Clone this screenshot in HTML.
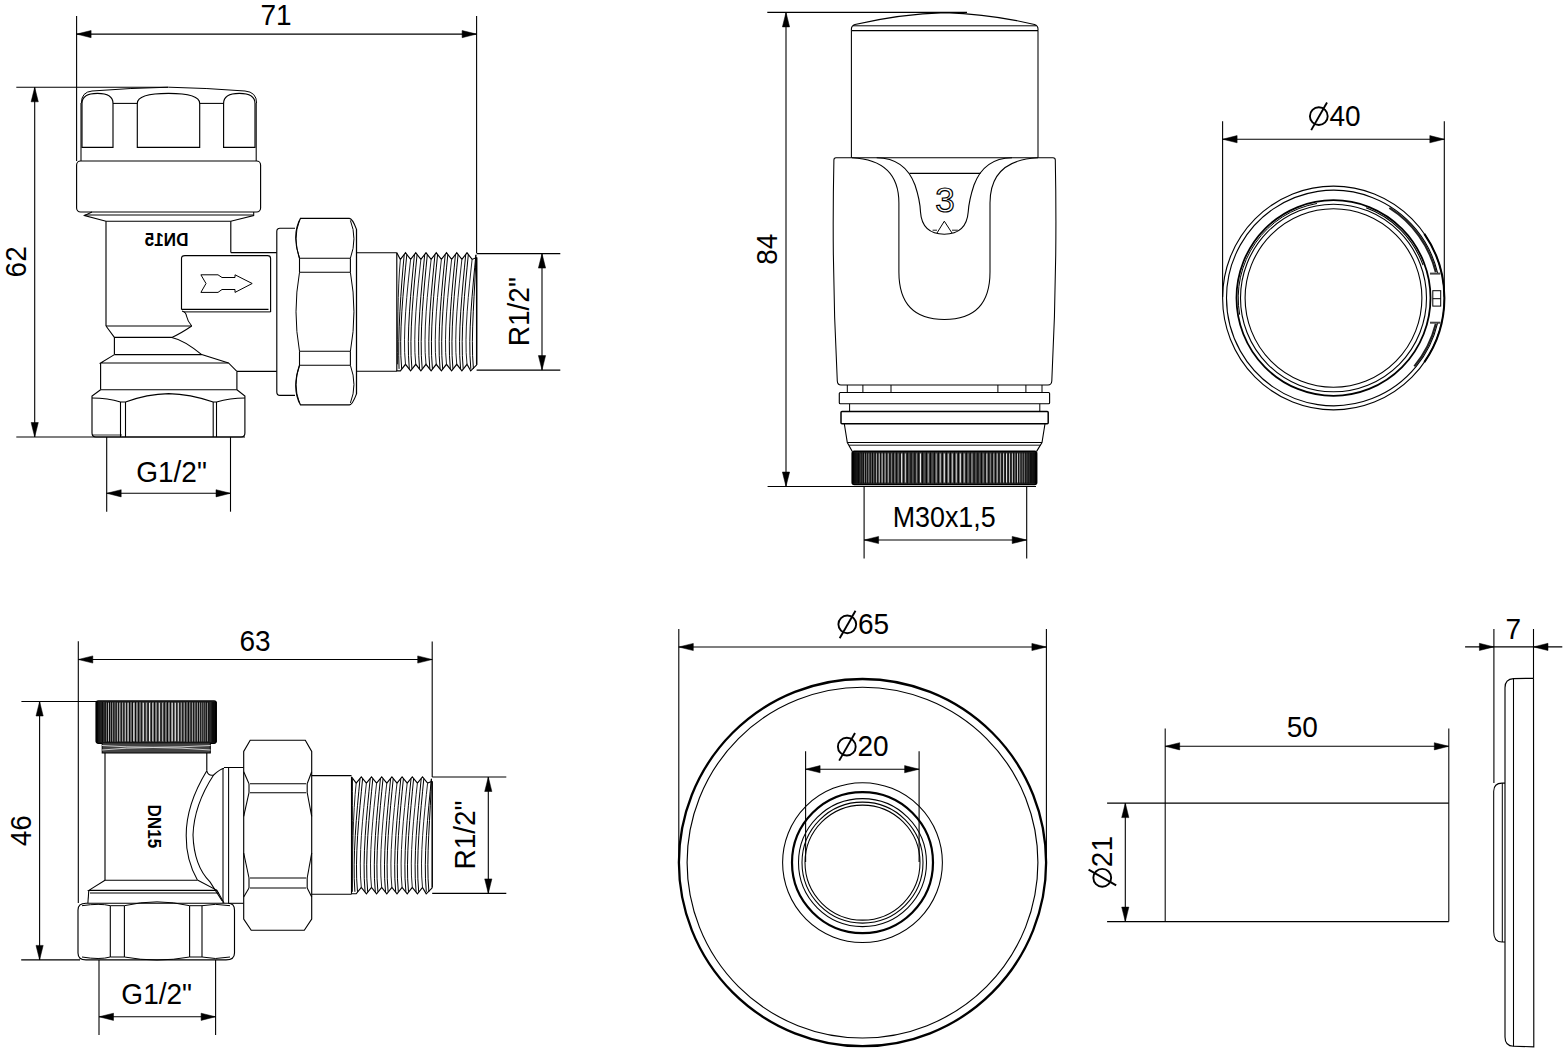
<!DOCTYPE html>
<html><head><meta charset="utf-8"><style>
html,body{margin:0;padding:0;background:#fff;width:1567px;height:1053px;overflow:hidden}
svg{display:block}
text{font-family:"Liberation Sans",sans-serif;fill:#000}
</style></head><body>
<svg width="1567" height="1053" viewBox="0 0 1567 1053">
<rect width="1567" height="1053" fill="#fff"/>
<line x1="76.6" y1="16" x2="76.6" y2="161" stroke="#000" stroke-width="1.1"/>
<line x1="476.6" y1="16" x2="476.6" y2="253" stroke="#000" stroke-width="1.1"/>
<line x1="76.6" y1="34.1" x2="476.6" y2="34.1" stroke="#000" stroke-width="1.1"/>
<path d="M76.6 34.1 L91.1 30.5 L91.1 37.7 Z" stroke="#000" stroke-width="0.5" fill="#000" />
<path d="M476.6 34.1 L462.1 30.5 L462.1 37.7 Z" stroke="#000" stroke-width="0.5" fill="#000" />
<text x="0" y="0" font-size="29.5" text-anchor="middle" transform="translate(276 25) scale(0.95 1)" >71</text>
<line x1="16.3" y1="87.3" x2="168" y2="87.3" stroke="#000" stroke-width="1.1"/>
<line x1="16.3" y1="437" x2="245" y2="437" stroke="#000" stroke-width="1.1"/>
<line x1="34.7" y1="87.3" x2="34.7" y2="437" stroke="#000" stroke-width="1.1"/>
<path d="M34.7 87.3 L31.1 101.8 L38.3 101.8 Z" stroke="#000" stroke-width="0.5" fill="#000" />
<path d="M34.7 437 L31.1 422.5 L38.3 422.5 Z" stroke="#000" stroke-width="0.5" fill="#000" />
<text x="0" y="0" font-size="29.5" text-anchor="middle" transform="translate(26.3 261.8) rotate(-90) scale(0.95 1)" >62</text>
<line x1="106.7" y1="437" x2="106.7" y2="511.7" stroke="#000" stroke-width="1.1"/>
<line x1="230.5" y1="437" x2="230.5" y2="511.7" stroke="#000" stroke-width="1.1"/>
<line x1="106.7" y1="493.3" x2="230.5" y2="493.3" stroke="#000" stroke-width="1.1"/>
<path d="M106.7 493.3 L121.2 489.7 L121.2 496.9 Z" stroke="#000" stroke-width="0.5" fill="#000" />
<path d="M230.5 493.3 L216 489.7 L216 496.9 Z" stroke="#000" stroke-width="0.5" fill="#000" />
<text x="0" y="0" font-size="29.5" text-anchor="middle" transform="translate(171.5 482.3) scale(0.95 1)" >G1/2"</text>
<line x1="476.6" y1="253.6" x2="560.3" y2="253.6" stroke="#000" stroke-width="1.1"/>
<line x1="476.6" y1="370.1" x2="560.3" y2="370.1" stroke="#000" stroke-width="1.1"/>
<line x1="542" y1="253.6" x2="542" y2="370.1" stroke="#000" stroke-width="1.1"/>
<path d="M542 253.6 L538.4 268.1 L545.6 268.1 Z" stroke="#000" stroke-width="0.5" fill="#000" />
<path d="M542 370.1 L538.4 355.6 L545.6 355.6 Z" stroke="#000" stroke-width="0.5" fill="#000" />
<text x="0" y="0" font-size="29.5" text-anchor="middle" transform="translate(529.3 311.7) rotate(-90) scale(0.95 1)" >R1/2"</text>
<path d="M81.4 103 Q81.4 92 92 91 Q130 88 168.5 87.2 Q207 88 245 91 Q256.6 92 256.6 103" stroke="#000" stroke-width="1" fill="none" />
<path d="M82 147.4 L82 103.4 Q82 93.4 97.5 93.4 Q113 93.4 113 103.4 L113 147.4 Z" stroke="#000" stroke-width="1.14" fill="none" />
<path d="M137.3 147.4 L137.3 103.4 Q137.3 93.4 168.5 93.4 Q199.7 93.4 199.7 103.4 L199.7 147.4 Z" stroke="#000" stroke-width="1.14" fill="none" />
<path d="M223.6 147.4 L223.6 103.4 Q223.6 93.4 239.3 93.4 Q255 93.4 255 103.4 L255 147.4 Z" stroke="#000" stroke-width="1.14" fill="none" />
<line x1="113" y1="103.4" x2="137.3" y2="103.4" stroke="#000" stroke-width="1.06"/>
<line x1="199.7" y1="103.4" x2="223.6" y2="103.4" stroke="#000" stroke-width="1.06"/>
<line x1="81" y1="103" x2="81" y2="161" stroke="#000" stroke-width="1.06"/>
<line x1="256.2" y1="103" x2="256.2" y2="161" stroke="#000" stroke-width="1.06"/>
<rect x="76.6" y="161" width="184" height="51" rx="4" stroke="#000" stroke-width="1.14" fill="none"/>
<path d="M84.5 215 L253.7 215" stroke="#000" stroke-width="1" fill="none" />
<path d="M92 212 L84.5 215.5 L106 221.2 L230.8 221.2 L253.7 215.5 L253.7 212" stroke="#000" stroke-width="1.06" fill="none" />
<line x1="106" y1="221.2" x2="106" y2="326" stroke="#000" stroke-width="1.14"/>
<line x1="230.8" y1="221.2" x2="230.8" y2="252.6" stroke="#000" stroke-width="1.14"/>
<text x="0" y="0" font-size="19" font-weight="bold" text-anchor="middle" transform="translate(166.6 245.7) scale(-0.9 1)">DN15</text>
<line x1="230.8" y1="252.6" x2="276.7" y2="252.6" stroke="#000" stroke-width="1.06"/>
<path d="M181.5 309.4 L181.5 258.5 Q181.5 255.6 185 255.6 L267.5 255.6 Q270.6 255.6 270.6 258.5 L270.6 312" stroke="#000" stroke-width="1.14" fill="none" />
<line x1="181.5" y1="309.4" x2="268.5" y2="309.4" stroke="#000" stroke-width="1.14"/>
<line x1="184" y1="311.9" x2="270.6" y2="311.9" stroke="#000" stroke-width="1"/>
<path d="M200.9 274.8 L218 274.8 L222 277.5 L235 277.5 L235 274.8 L252.2 283.5 L235 292.4 L235 289.5 L222 289.5 L218 292.4 L200.9 292.4 L206 283.5 Z" stroke="#000" stroke-width="1" fill="none" />
<path d="M182 311 Q186 312 186.5 316 Q187.5 321 191.7 326" stroke="#000" stroke-width="1.06" fill="none" />
<line x1="106" y1="326" x2="191.7" y2="326" stroke="#000" stroke-width="1.14"/>
<path d="M106 326 L114.4 337.4 L171.8 337.4 Q180 334 191.7 326" stroke="#000" stroke-width="1.06" fill="none" />
<line x1="114.4" y1="337.4" x2="114.4" y2="354.6" stroke="#000" stroke-width="1.14"/>
<path d="M171.8 337.4 Q184 340 201.7 354.6 L228.5 363 L236.9 371.4" stroke="#000" stroke-width="1.06" fill="none" />
<line x1="114.4" y1="354.6" x2="201.7" y2="354.6" stroke="#000" stroke-width="1.14"/>
<path d="M114.4 354.6 L100.6 363 L228.5 363" stroke="#000" stroke-width="1.06" fill="none" />
<line x1="100.6" y1="363" x2="100.6" y2="389.8" stroke="#000" stroke-width="1.14"/>
<line x1="236.9" y1="371.4" x2="236.9" y2="389.8" stroke="#000" stroke-width="1.14"/>
<line x1="100.6" y1="389.8" x2="236.9" y2="389.8" stroke="#000" stroke-width="1.14"/>
<path d="M100.6 389.8 L92 396 L92 433 Q92 437 96 437 L241 437 Q244.9 437 244.9 433 L244.9 396 L236.9 389.8" stroke="#000" stroke-width="1.14" fill="none" />
<path d="M92 398 Q108 398 120.5 402 L125.5 402 Q147 394 168.7 393.6 Q190 394 213.2 402 L216.5 402 Q230 398 244.9 398" stroke="#000" stroke-width="1.1" fill="none" />
<line x1="120.5" y1="402" x2="120.5" y2="437" stroke="#000" stroke-width="1.1"/>
<line x1="125.5" y1="402" x2="125.5" y2="437" stroke="#000" stroke-width="1.1"/>
<line x1="213.2" y1="402" x2="213.2" y2="437" stroke="#000" stroke-width="1.1"/>
<line x1="216.5" y1="402" x2="216.5" y2="437" stroke="#000" stroke-width="1.1"/>
<line x1="92" y1="435" x2="122" y2="435" stroke="#000" stroke-width="0.8"/>
<line x1="237" y1="371.4" x2="276.7" y2="371.4" stroke="#000" stroke-width="1.06"/>
<path d="M295 228.3 L280 228.3 Q276.8 228.3 276.8 231.5 L276.8 392 Q276.8 395.4 280 395.4 L295 395.4" stroke="#000" stroke-width="1.14" fill="none" />
<path d="M299.5 258.2 Q291.5 234.3 300.5 218.4 L349.4 218.4 Q352.4 218.4 356.5 229.4 L356.5 393.9 Q352.4 404.9 349.4 404.9 L300.5 404.9 Q291.5 389.1 299.5 365.3" stroke="#000" stroke-width="1.14" fill="none" />
<line x1="299.5" y1="258.2" x2="350.4" y2="258.2" stroke="#000" stroke-width="1.06"/>
<line x1="299.5" y1="272.3" x2="350.4" y2="272.3" stroke="#000" stroke-width="1.06"/>
<line x1="299.5" y1="351.3" x2="350.4" y2="351.3" stroke="#000" stroke-width="1.06"/>
<line x1="299.5" y1="365.3" x2="350.4" y2="365.3" stroke="#000" stroke-width="1.06"/>
<line x1="299.5" y1="258.2" x2="299.5" y2="272.3" stroke="#000" stroke-width="1.1"/>
<line x1="350.4" y1="258.2" x2="350.4" y2="272.3" stroke="#000" stroke-width="1.1"/>
<line x1="299.5" y1="351.3" x2="299.5" y2="365.3" stroke="#000" stroke-width="1.1"/>
<line x1="350.4" y1="351.3" x2="350.4" y2="365.3" stroke="#000" stroke-width="1.1"/>
<path d="M299.5 220.4 Q292.5 238.3 299.5 258.2" stroke="#000" stroke-width="1" fill="none" />
<path d="M350.4 220.4 Q357.5 238.3 350.4 258.2" stroke="#000" stroke-width="1" fill="none" />
<path d="M299.5 272.3 Q292.5 311.8 299.5 351.3" stroke="#000" stroke-width="1" fill="none" />
<path d="M350.4 272.3 Q357.5 311.8 350.4 351.3" stroke="#000" stroke-width="1" fill="none" />
<path d="M299.5 365.3 Q292.5 385.1 299.5 402.9" stroke="#000" stroke-width="1" fill="none" />
<path d="M350.4 365.3 Q357.5 385.1 350.4 402.9" stroke="#000" stroke-width="1" fill="none" />
<line x1="356.5" y1="229.4" x2="356.5" y2="393.9" stroke="#000" stroke-width="1.14"/>
<line x1="356.5" y1="252.8" x2="396.8" y2="252.8" stroke="#000" stroke-width="1.06"/>
<line x1="356.5" y1="371.2" x2="396.8" y2="371.2" stroke="#000" stroke-width="1.06"/>
<path d="M396.8 252.8 L400.38 259.4 L405.5 252.8 L410.62 259.4 L415.75 252.8 L420.88 259.4 L426 252.8 L431.12 259.4 L436.25 252.8 L441.38 259.4 L446.5 252.8 L451.62 259.4 L456.75 252.8 L461.88 259.4 L467 252.8 L472.12 259.4 L476.7 257.42" stroke="#000" stroke-width="1.14" fill="none" />
<path d="M396.3 370.9 L400.38 370.9 L405.5 364.3 L410.62 370.9 L415.75 364.3 L420.88 370.9 L426 364.3 L431.12 370.9 L436.25 364.3 L441.38 370.9 L446.5 364.3 L451.62 370.9 L456.75 364.3 L461.88 370.9 L467 364.3 L470.7 370.9 L476.7 364.9" stroke="#000" stroke-width="1.14" fill="none" />
<path d="M400.38 259.4 C397.6 288.23 397.6 335.47 397.6 364.3" stroke="#222" stroke-width="1" fill="none" />
<path d="M404.2 254.8 C401 288.23 397.6 335.47 399.07 368.9" stroke="#000" stroke-width="1" fill="none" />
<path d="M406.8 254.8 C403.6 288.23 398.48 335.47 401.68 368.9" stroke="#000" stroke-width="1" fill="none" />
<path d="M410.62 259.4 C407.43 288.23 402.3 335.47 405.5 364.3" stroke="#222" stroke-width="1" fill="none" />
<path d="M414.45 254.8 C411.25 288.23 406.12 335.47 409.32 368.9" stroke="#000" stroke-width="1" fill="none" />
<path d="M417.05 254.8 C413.85 288.23 408.73 335.47 411.93 368.9" stroke="#000" stroke-width="1" fill="none" />
<path d="M420.88 259.4 C417.68 288.23 412.55 335.47 415.75 364.3" stroke="#222" stroke-width="1" fill="none" />
<path d="M424.7 254.8 C421.5 288.23 416.38 335.47 419.57 368.9" stroke="#000" stroke-width="1" fill="none" />
<path d="M427.3 254.8 C424.1 288.23 418.98 335.47 422.18 368.9" stroke="#000" stroke-width="1" fill="none" />
<path d="M431.12 259.4 C427.93 288.23 422.8 335.47 426 364.3" stroke="#222" stroke-width="1" fill="none" />
<path d="M434.95 254.8 C431.75 288.23 426.62 335.47 429.82 368.9" stroke="#000" stroke-width="1" fill="none" />
<path d="M437.55 254.8 C434.35 288.23 429.23 335.47 432.43 368.9" stroke="#000" stroke-width="1" fill="none" />
<path d="M441.38 259.4 C438.18 288.23 433.05 335.47 436.25 364.3" stroke="#222" stroke-width="1" fill="none" />
<path d="M445.2 254.8 C442 288.23 436.88 335.47 440.07 368.9" stroke="#000" stroke-width="1" fill="none" />
<path d="M447.8 254.8 C444.6 288.23 439.48 335.47 442.68 368.9" stroke="#000" stroke-width="1" fill="none" />
<path d="M451.62 259.4 C448.43 288.23 443.3 335.47 446.5 364.3" stroke="#222" stroke-width="1" fill="none" />
<path d="M455.45 254.8 C452.25 288.23 447.12 335.47 450.32 368.9" stroke="#000" stroke-width="1" fill="none" />
<path d="M458.05 254.8 C454.85 288.23 449.73 335.47 452.93 368.9" stroke="#000" stroke-width="1" fill="none" />
<path d="M461.88 259.4 C458.68 288.23 453.55 335.47 456.75 364.3" stroke="#222" stroke-width="1" fill="none" />
<path d="M465.7 254.8 C462.5 288.23 457.38 335.47 460.57 368.9" stroke="#000" stroke-width="1" fill="none" />
<path d="M468.3 254.8 C465.1 288.23 459.98 335.47 463.18 368.9" stroke="#000" stroke-width="1" fill="none" />
<path d="M472.12 259.4 C468.93 288.23 463.8 335.47 467 364.3" stroke="#222" stroke-width="1" fill="none" />
<path d="M475.9 254.8 C472.75 288.23 467.62 335.47 470.82 368.9" stroke="#000" stroke-width="1" fill="none" />
<path d="M475.9 254.8 C475.35 288.23 470.23 335.47 473.43 368.9" stroke="#000" stroke-width="1" fill="none" />
<line x1="396.8" y1="252.8" x2="396.8" y2="370.9" stroke="#000" stroke-width="1.14"/>
<line x1="476.7" y1="257.42" x2="476.7" y2="364.9" stroke="#000" stroke-width="1.5"/>
<line x1="767.3" y1="12.4" x2="967" y2="12.4" stroke="#000" stroke-width="1.1"/>
<line x1="767.6" y1="486.5" x2="1036" y2="486.5" stroke="#000" stroke-width="1.1"/>
<line x1="786" y1="12.4" x2="786" y2="486.5" stroke="#000" stroke-width="1.1"/>
<path d="M786 12.4 L782.4 26.9 L789.6 26.9 Z" stroke="#000" stroke-width="0.5" fill="#000" />
<path d="M786 486.5 L782.4 472 L789.6 472 Z" stroke="#000" stroke-width="0.5" fill="#000" />
<text x="0" y="0" font-size="29.5" text-anchor="middle" transform="translate(776.8 249.2) rotate(-90) scale(0.95 1)" >84</text>
<line x1="864.1" y1="486.5" x2="864.1" y2="558.4" stroke="#000" stroke-width="1.1"/>
<line x1="1026.7" y1="486.5" x2="1026.7" y2="558.4" stroke="#000" stroke-width="1.1"/>
<line x1="864.1" y1="540" x2="1026.7" y2="540" stroke="#000" stroke-width="1.1"/>
<path d="M864.1 540 L878.6 536.4 L878.6 543.6 Z" stroke="#000" stroke-width="0.5" fill="#000" />
<path d="M1026.7 540 L1012.2 536.4 L1012.2 543.6 Z" stroke="#000" stroke-width="0.5" fill="#000" />
<text x="0" y="0" font-size="29.5" text-anchor="middle" transform="translate(944.2 527.3) scale(0.91 1)" >M30x1,5</text>
<path d="M851.4 30.6 L851.4 29 Q851.4 25.8 855 24.5 Q900 14 945.3 12.6 Q990 14 1034.5 24.5 Q1038 25.8 1038 29 L1038 30.6" stroke="#000" stroke-width="1.1" fill="none" />
<line x1="853" y1="25.8" x2="1036" y2="25.8" stroke="#000" stroke-width="1"/>
<line x1="851.4" y1="30.6" x2="1038" y2="30.6" stroke="#000" stroke-width="1.14"/>
<line x1="851.4" y1="30.6" x2="851.4" y2="157.7" stroke="#000" stroke-width="1.06"/>
<line x1="1038" y1="30.6" x2="1038" y2="157.7" stroke="#000" stroke-width="1.06"/>
<path d="M836 157.7 L1053 157.7 Q1055.3 157.7 1055.3 160 Q1057.5 270 1051.8 381 Q1051.5 385 1048 385 L841 385 Q837.5 385 837.3 381 Q831.5 270 833.9 160 Q833.9 157.7 836 157.7 Z" stroke="#000" stroke-width="1.06" fill="none" />
<path d="M852 157.7 Q898.9 160 898.9 203 L898.9 272 Q898.9 319.5 944.4 319.5 Q990 319.5 990 272 L990 203 Q990 160 1038 157.7" stroke="#000" stroke-width="1.06" fill="none" />
<path d="M876.7 157.7 Q905 158 915 185 Q920 200 920.5 212 Q922 234 944.3 234.2 Q966.5 234 968.2 212 Q969 200 974 185 Q984 158 1012 157.7" stroke="#000" stroke-width="1.1" fill="none" />
<line x1="909.5" y1="173.4" x2="980.5" y2="173.4" stroke="#000" stroke-width="1.1"/>
<text x="0" y="0" font-size="35" text-anchor="middle" transform="translate(945 212.2)" style="fill:none;stroke:#000;stroke-width:1.2">3</text>
<path d="M937 233 L944.3 221.2 L952 233" stroke="#000" stroke-width="1" fill="none" />
<line x1="932.6" y1="230.2" x2="937" y2="230.2" stroke="#000" stroke-width="0.9"/>
<line x1="952" y1="230.2" x2="957.9" y2="230.2" stroke="#000" stroke-width="0.9"/>
<line x1="847.3" y1="385" x2="847.3" y2="392.5" stroke="#000" stroke-width="1"/>
<line x1="862.9" y1="385" x2="862.9" y2="392.5" stroke="#000" stroke-width="1"/>
<line x1="891" y1="385" x2="891" y2="392.5" stroke="#000" stroke-width="1"/>
<line x1="997.9" y1="385" x2="997.9" y2="392.5" stroke="#000" stroke-width="1"/>
<line x1="1025.9" y1="385" x2="1025.9" y2="392.5" stroke="#000" stroke-width="1"/>
<line x1="1042" y1="385" x2="1042" y2="392.5" stroke="#000" stroke-width="1"/>
<rect x="839.3" y="392.5" width="210.3" height="11.3" rx="1" stroke="#000" stroke-width="1.14" fill="none"/>
<line x1="849.6" y1="403.8" x2="849.6" y2="411.6" stroke="#000" stroke-width="1"/>
<line x1="1039.8" y1="403.8" x2="1039.8" y2="411.6" stroke="#000" stroke-width="1"/>
<rect x="841" y="411.6" width="207.2" height="12.15" rx="1" stroke="#000" stroke-width="1.5" fill="none"/>
<path d="M844.3 423.75 L847.3 442.5 L852.3 451.4" stroke="#000" stroke-width="1.1" fill="none" />
<path d="M1045 423.75 L1042 442.5 L1036.6 451.4" stroke="#000" stroke-width="1.1" fill="none" />
<line x1="847.3" y1="442.5" x2="1042" y2="442.5" stroke="#000" stroke-width="1.06"/>
<line x1="849" y1="445.2" x2="1040.5" y2="445.2" stroke="#000" stroke-width="0.9"/>
<rect x="852.3" y="451.4" width="184.3" height="33.1" rx="2" stroke="#000" stroke-width="0" fill="#383838"/>
<line x1="852.32" y1="452.4" x2="852.32" y2="483.5" stroke="#000" stroke-width="0.9"/>
<line x1="852.5" y1="452.4" x2="852.5" y2="483.5" stroke="#000" stroke-width="0.9"/>
<line x1="852.85" y1="452.4" x2="852.85" y2="483.5" stroke="#000" stroke-width="0.9"/>
<line x1="853.37" y1="452.4" x2="853.37" y2="483.5" stroke="#000" stroke-width="0.9"/>
<line x1="854.07" y1="452.4" x2="854.07" y2="483.5" stroke="#000" stroke-width="0.9"/>
<line x1="854.94" y1="452.4" x2="854.94" y2="483.5" stroke="#000" stroke-width="0.9"/>
<line x1="855.98" y1="452.4" x2="855.98" y2="483.5" stroke="#000" stroke-width="0.9"/>
<line x1="857.19" y1="452.4" x2="857.19" y2="483.5" stroke="#000" stroke-width="0.9"/>
<line x1="858.57" y1="452.4" x2="858.57" y2="483.5" stroke="#000" stroke-width="0.9"/>
<line x1="860.83" y1="453.4" x2="860.83" y2="482.5" stroke="rgb(255,255,255)" stroke-width="0.49"/>
<line x1="860.1" y1="452.4" x2="860.1" y2="483.5" stroke="#000" stroke-width="0.9"/>
<line x1="862.6" y1="453.4" x2="862.6" y2="482.5" stroke="rgb(90,90,90)" stroke-width="0.53"/>
<line x1="861.8" y1="452.4" x2="861.8" y2="483.5" stroke="#000" stroke-width="0.9"/>
<line x1="864.53" y1="453.4" x2="864.53" y2="482.5" stroke="rgb(210,210,210)" stroke-width="0.58"/>
<line x1="863.66" y1="452.4" x2="863.66" y2="483.5" stroke="#000" stroke-width="0.9"/>
<line x1="866.61" y1="453.4" x2="866.61" y2="482.5" stroke="rgb(170,170,170)" stroke-width="0.63"/>
<line x1="865.67" y1="452.4" x2="865.67" y2="483.5" stroke="#000" stroke-width="0.9"/>
<line x1="868.84" y1="453.4" x2="868.84" y2="482.5" stroke="rgb(255,255,255)" stroke-width="0.67"/>
<line x1="867.83" y1="452.4" x2="867.83" y2="483.5" stroke="#000" stroke-width="0.9"/>
<line x1="871.21" y1="453.4" x2="871.21" y2="482.5" stroke="rgb(130,130,130)" stroke-width="0.71"/>
<line x1="870.14" y1="452.4" x2="870.14" y2="483.5" stroke="#000" stroke-width="0.9"/>
<line x1="873.72" y1="453.4" x2="873.72" y2="482.5" stroke="rgb(130,130,130)" stroke-width="0.76"/>
<line x1="872.58" y1="452.4" x2="872.58" y2="483.5" stroke="#000" stroke-width="0.9"/>
<line x1="876.36" y1="453.4" x2="876.36" y2="482.5" stroke="rgb(210,210,210)" stroke-width="0.8"/>
<line x1="875.17" y1="452.4" x2="875.17" y2="483.5" stroke="#000" stroke-width="0.9"/>
<line x1="879.14" y1="453.4" x2="879.14" y2="482.5" stroke="rgb(255,255,255)" stroke-width="0.83"/>
<line x1="877.88" y1="452.4" x2="877.88" y2="483.5" stroke="#000" stroke-width="0.9"/>
<line x1="882.03" y1="453.4" x2="882.03" y2="482.5" stroke="rgb(255,255,255)" stroke-width="0.87"/>
<line x1="880.73" y1="452.4" x2="880.73" y2="483.5" stroke="#000" stroke-width="0.9"/>
<line x1="885.05" y1="453.4" x2="885.05" y2="482.5" stroke="rgb(210,210,210)" stroke-width="0.91"/>
<line x1="883.69" y1="452.4" x2="883.69" y2="483.5" stroke="#000" stroke-width="0.9"/>
<line x1="888.18" y1="453.4" x2="888.18" y2="482.5" stroke="rgb(210,210,210)" stroke-width="0.94"/>
<line x1="886.77" y1="452.4" x2="886.77" y2="483.5" stroke="#000" stroke-width="0.9"/>
<line x1="891.42" y1="453.4" x2="891.42" y2="482.5" stroke="rgb(130,130,130)" stroke-width="0.97"/>
<line x1="889.96" y1="452.4" x2="889.96" y2="483.5" stroke="#000" stroke-width="0.9"/>
<line x1="894.76" y1="453.4" x2="894.76" y2="482.5" stroke="rgb(130,130,130)" stroke-width="1"/>
<line x1="893.25" y1="452.4" x2="893.25" y2="483.5" stroke="#000" stroke-width="0.9"/>
<line x1="898.19" y1="453.4" x2="898.19" y2="482.5" stroke="rgb(130,130,130)" stroke-width="1.03"/>
<line x1="896.65" y1="452.4" x2="896.65" y2="483.5" stroke="#000" stroke-width="0.9"/>
<line x1="901.71" y1="453.4" x2="901.71" y2="482.5" stroke="rgb(255,255,255)" stroke-width="1.06"/>
<line x1="900.13" y1="452.4" x2="900.13" y2="483.5" stroke="#000" stroke-width="0.9"/>
<line x1="905.32" y1="453.4" x2="905.32" y2="482.5" stroke="rgb(210,210,210)" stroke-width="1.08"/>
<line x1="903.69" y1="452.4" x2="903.69" y2="483.5" stroke="#000" stroke-width="0.9"/>
<line x1="908.99" y1="453.4" x2="908.99" y2="482.5" stroke="rgb(90,90,90)" stroke-width="1.1"/>
<line x1="907.34" y1="452.4" x2="907.34" y2="483.5" stroke="#000" stroke-width="0.9"/>
<line x1="912.74" y1="453.4" x2="912.74" y2="482.5" stroke="rgb(90,90,90)" stroke-width="1.12"/>
<line x1="911.05" y1="452.4" x2="911.05" y2="483.5" stroke="#000" stroke-width="0.9"/>
<line x1="916.54" y1="453.4" x2="916.54" y2="482.5" stroke="rgb(130,130,130)" stroke-width="1.14"/>
<line x1="914.83" y1="452.4" x2="914.83" y2="483.5" stroke="#000" stroke-width="0.9"/>
<line x1="920.4" y1="453.4" x2="920.4" y2="482.5" stroke="rgb(255,255,255)" stroke-width="1.02"/>
<line x1="918.66" y1="452.4" x2="918.66" y2="483.5" stroke="#000" stroke-width="0.9"/>
<line x1="924.3" y1="453.4" x2="924.3" y2="482.5" stroke="rgb(90,90,90)" stroke-width="1.03"/>
<line x1="922.55" y1="452.4" x2="922.55" y2="483.5" stroke="#000" stroke-width="0.9"/>
<line x1="928.25" y1="453.4" x2="928.25" y2="482.5" stroke="rgb(170,170,170)" stroke-width="1.04"/>
<line x1="926.47" y1="452.4" x2="926.47" y2="483.5" stroke="#000" stroke-width="0.9"/>
<line x1="932.22" y1="453.4" x2="932.22" y2="482.5" stroke="rgb(90,90,90)" stroke-width="1.05"/>
<line x1="930.43" y1="452.4" x2="930.43" y2="483.5" stroke="#000" stroke-width="0.9"/>
<line x1="936.22" y1="453.4" x2="936.22" y2="482.5" stroke="rgb(170,170,170)" stroke-width="1.06"/>
<line x1="934.42" y1="452.4" x2="934.42" y2="483.5" stroke="#000" stroke-width="0.9"/>
<line x1="940.23" y1="453.4" x2="940.23" y2="482.5" stroke="rgb(210,210,210)" stroke-width="1.06"/>
<line x1="938.42" y1="452.4" x2="938.42" y2="483.5" stroke="#000" stroke-width="0.9"/>
<line x1="944.25" y1="453.4" x2="944.25" y2="482.5" stroke="rgb(255,255,255)" stroke-width="1.06"/>
<line x1="942.44" y1="452.4" x2="942.44" y2="483.5" stroke="#000" stroke-width="0.9"/>
<line x1="948.27" y1="453.4" x2="948.27" y2="482.5" stroke="rgb(210,210,210)" stroke-width="1.06"/>
<line x1="946.46" y1="452.4" x2="946.46" y2="483.5" stroke="#000" stroke-width="0.9"/>
<line x1="952.28" y1="453.4" x2="952.28" y2="482.5" stroke="rgb(210,210,210)" stroke-width="1.06"/>
<line x1="950.48" y1="452.4" x2="950.48" y2="483.5" stroke="#000" stroke-width="0.9"/>
<line x1="956.28" y1="453.4" x2="956.28" y2="482.5" stroke="rgb(210,210,210)" stroke-width="1.06"/>
<line x1="954.48" y1="452.4" x2="954.48" y2="483.5" stroke="#000" stroke-width="0.9"/>
<line x1="960.26" y1="453.4" x2="960.26" y2="482.5" stroke="rgb(255,255,255)" stroke-width="1.05"/>
<line x1="958.47" y1="452.4" x2="958.47" y2="483.5" stroke="#000" stroke-width="0.9"/>
<line x1="964.2" y1="453.4" x2="964.2" y2="482.5" stroke="rgb(210,210,210)" stroke-width="1.04"/>
<line x1="962.43" y1="452.4" x2="962.43" y2="483.5" stroke="#000" stroke-width="0.9"/>
<line x1="968.11" y1="453.4" x2="968.11" y2="482.5" stroke="rgb(130,130,130)" stroke-width="1.03"/>
<line x1="966.35" y1="452.4" x2="966.35" y2="483.5" stroke="#000" stroke-width="0.9"/>
<line x1="971.97" y1="453.4" x2="971.97" y2="482.5" stroke="rgb(170,170,170)" stroke-width="1.02"/>
<line x1="970.24" y1="452.4" x2="970.24" y2="483.5" stroke="#000" stroke-width="0.9"/>
<line x1="975.78" y1="453.4" x2="975.78" y2="482.5" stroke="rgb(90,90,90)" stroke-width="1.14"/>
<line x1="974.07" y1="452.4" x2="974.07" y2="483.5" stroke="#000" stroke-width="0.9"/>
<line x1="979.54" y1="453.4" x2="979.54" y2="482.5" stroke="rgb(90,90,90)" stroke-width="1.12"/>
<line x1="977.85" y1="452.4" x2="977.85" y2="483.5" stroke="#000" stroke-width="0.9"/>
<line x1="983.22" y1="453.4" x2="983.22" y2="482.5" stroke="rgb(130,130,130)" stroke-width="1.1"/>
<line x1="981.56" y1="452.4" x2="981.56" y2="483.5" stroke="#000" stroke-width="0.9"/>
<line x1="986.83" y1="453.4" x2="986.83" y2="482.5" stroke="rgb(210,210,210)" stroke-width="1.08"/>
<line x1="985.21" y1="452.4" x2="985.21" y2="483.5" stroke="#000" stroke-width="0.9"/>
<line x1="990.36" y1="453.4" x2="990.36" y2="482.5" stroke="rgb(130,130,130)" stroke-width="1.06"/>
<line x1="988.77" y1="452.4" x2="988.77" y2="483.5" stroke="#000" stroke-width="0.9"/>
<line x1="993.8" y1="453.4" x2="993.8" y2="482.5" stroke="rgb(170,170,170)" stroke-width="1.03"/>
<line x1="992.25" y1="452.4" x2="992.25" y2="483.5" stroke="#000" stroke-width="0.9"/>
<line x1="997.15" y1="453.4" x2="997.15" y2="482.5" stroke="rgb(210,210,210)" stroke-width="1"/>
<line x1="995.65" y1="452.4" x2="995.65" y2="483.5" stroke="#000" stroke-width="0.9"/>
<line x1="1000.4" y1="453.4" x2="1000.4" y2="482.5" stroke="rgb(170,170,170)" stroke-width="0.97"/>
<line x1="998.94" y1="452.4" x2="998.94" y2="483.5" stroke="#000" stroke-width="0.9"/>
<line x1="1003.54" y1="453.4" x2="1003.54" y2="482.5" stroke="rgb(210,210,210)" stroke-width="0.94"/>
<line x1="1002.13" y1="452.4" x2="1002.13" y2="483.5" stroke="#000" stroke-width="0.9"/>
<line x1="1006.57" y1="453.4" x2="1006.57" y2="482.5" stroke="rgb(255,255,255)" stroke-width="0.91"/>
<line x1="1005.21" y1="452.4" x2="1005.21" y2="483.5" stroke="#000" stroke-width="0.9"/>
<line x1="1009.48" y1="453.4" x2="1009.48" y2="482.5" stroke="rgb(210,210,210)" stroke-width="0.87"/>
<line x1="1008.17" y1="452.4" x2="1008.17" y2="483.5" stroke="#000" stroke-width="0.9"/>
<line x1="1012.27" y1="453.4" x2="1012.27" y2="482.5" stroke="rgb(255,255,255)" stroke-width="0.83"/>
<line x1="1011.02" y1="452.4" x2="1011.02" y2="483.5" stroke="#000" stroke-width="0.9"/>
<line x1="1014.93" y1="453.4" x2="1014.93" y2="482.5" stroke="rgb(170,170,170)" stroke-width="0.8"/>
<line x1="1013.73" y1="452.4" x2="1013.73" y2="483.5" stroke="#000" stroke-width="0.9"/>
<line x1="1017.45" y1="453.4" x2="1017.45" y2="482.5" stroke="rgb(255,255,255)" stroke-width="0.76"/>
<line x1="1016.32" y1="452.4" x2="1016.32" y2="483.5" stroke="#000" stroke-width="0.9"/>
<line x1="1019.83" y1="453.4" x2="1019.83" y2="482.5" stroke="rgb(255,255,255)" stroke-width="0.71"/>
<line x1="1018.76" y1="452.4" x2="1018.76" y2="483.5" stroke="#000" stroke-width="0.9"/>
<line x1="1022.08" y1="453.4" x2="1022.08" y2="482.5" stroke="rgb(210,210,210)" stroke-width="0.67"/>
<line x1="1021.07" y1="452.4" x2="1021.07" y2="483.5" stroke="#000" stroke-width="0.9"/>
<line x1="1024.17" y1="453.4" x2="1024.17" y2="482.5" stroke="rgb(255,255,255)" stroke-width="0.63"/>
<line x1="1023.23" y1="452.4" x2="1023.23" y2="483.5" stroke="#000" stroke-width="0.9"/>
<line x1="1026.11" y1="453.4" x2="1026.11" y2="482.5" stroke="rgb(130,130,130)" stroke-width="0.58"/>
<line x1="1025.24" y1="452.4" x2="1025.24" y2="483.5" stroke="#000" stroke-width="0.9"/>
<line x1="1027.9" y1="453.4" x2="1027.9" y2="482.5" stroke="rgb(170,170,170)" stroke-width="0.53"/>
<line x1="1027.1" y1="452.4" x2="1027.1" y2="483.5" stroke="#000" stroke-width="0.9"/>
<line x1="1029.52" y1="453.4" x2="1029.52" y2="482.5" stroke="rgb(90,90,90)" stroke-width="0.49"/>
<line x1="1028.8" y1="452.4" x2="1028.8" y2="483.5" stroke="#000" stroke-width="0.9"/>
<line x1="1030.33" y1="452.4" x2="1030.33" y2="483.5" stroke="#000" stroke-width="0.9"/>
<line x1="1031.71" y1="452.4" x2="1031.71" y2="483.5" stroke="#000" stroke-width="0.9"/>
<line x1="1032.92" y1="452.4" x2="1032.92" y2="483.5" stroke="#000" stroke-width="0.9"/>
<line x1="1033.96" y1="452.4" x2="1033.96" y2="483.5" stroke="#000" stroke-width="0.9"/>
<line x1="1034.83" y1="452.4" x2="1034.83" y2="483.5" stroke="#000" stroke-width="0.9"/>
<line x1="1035.53" y1="452.4" x2="1035.53" y2="483.5" stroke="#000" stroke-width="0.9"/>
<line x1="1036.05" y1="452.4" x2="1036.05" y2="483.5" stroke="#000" stroke-width="0.9"/>
<line x1="1036.4" y1="452.4" x2="1036.4" y2="483.5" stroke="#000" stroke-width="0.9"/>
<line x1="1036.58" y1="452.4" x2="1036.58" y2="483.5" stroke="#000" stroke-width="0.9"/>
<rect x="852.3" y="451.4" width="184.3" height="33.1" rx="2" stroke="#000" stroke-width="1.6" fill="none"/>
<line x1="1222.6" y1="121.3" x2="1222.6" y2="297" stroke="#000" stroke-width="1.1"/>
<line x1="1444.3" y1="121.3" x2="1444.3" y2="297" stroke="#000" stroke-width="1.1"/>
<line x1="1222.6" y1="139.2" x2="1444.3" y2="139.2" stroke="#000" stroke-width="1.1"/>
<path d="M1222.6 139.2 L1237.1 135.6 L1237.1 142.8 Z" stroke="#000" stroke-width="0.5" fill="#000" />
<path d="M1444.3 139.2 L1429.8 135.6 L1429.8 142.8 Z" stroke="#000" stroke-width="0.5" fill="#000" />
<g transform="translate(1309 125.9)"><circle cx="9.8" cy="-9.75" r="8.9" stroke="#000" stroke-width="1.9" fill="none"/><line x1="2.2" y1="4.2" x2="18" y2="-23.4" stroke="#000" stroke-width="1.9"/><text x="21.5" y="0" font-size="29.5" text-anchor="start" transform="scale(0.95 1)">40</text></g>
<ellipse cx="1333.5" cy="298" rx="110.9" ry="111.9" stroke="#000" stroke-width="1.1" fill="none"/>
<path d="M1424.34 233.82 A110.9 111.9 0 0 1 1424.34 362.18" stroke="#000" stroke-width="2" fill="none" />
<path d="M1437.63 322.8 A107 107.8 0 1 1 1437.63 273.2" stroke="#000" stroke-width="1.1" fill="none" />
<path d="M1389.41 207.85 A105.5 106.3 0 0 1 1435.87 272.28" stroke="#222" stroke-width="2.2" fill="none" />
<path d="M1435.87 323.72 A105.5 106.3 0 0 1 1414.32 366.33" stroke="#222" stroke-width="2.2" fill="none" />
<ellipse cx="1333.5" cy="298" rx="97" ry="97.8" stroke="#000" stroke-width="1.8" fill="none"/>
<path d="M1366.09 207.79 A95.3 96 0 0 1 1423.05 265.17" stroke="#000" stroke-width="1.06" fill="none" />
<path d="M1239.65 314.67 A95.3 96 0 0 1 1316.95 203.46" stroke="#000" stroke-width="1" fill="none" />
<ellipse cx="1333.5" cy="298" rx="93" ry="93.8" stroke="#000" stroke-width="1.1" fill="none"/>
<ellipse cx="1333.5" cy="298" rx="88.4" ry="89.2" stroke="#000" stroke-width="1.1" fill="none"/>
<line x1="1430" y1="273.6" x2="1440.5" y2="273.6" stroke="#444" stroke-width="2"/>
<line x1="1430" y1="322.7" x2="1440.5" y2="322.7" stroke="#444" stroke-width="2"/>
<rect x="1432.8" y="290.7" width="7.9" height="15.4" rx="0" stroke="#000" stroke-width="1" fill="none"/>
<line x1="1432.8" y1="298.7" x2="1440.7" y2="298.7" stroke="#000" stroke-width="1"/>
<line x1="78.3" y1="641.3" x2="78.3" y2="903" stroke="#000" stroke-width="1.1"/>
<line x1="432.2" y1="641.4" x2="432.2" y2="777" stroke="#000" stroke-width="1.1"/>
<line x1="78.3" y1="659.5" x2="432.2" y2="659.5" stroke="#000" stroke-width="1.1"/>
<path d="M78.3 659.5 L92.8 655.9 L92.8 663.1 Z" stroke="#000" stroke-width="0.5" fill="#000" />
<path d="M432.2 659.5 L417.7 655.9 L417.7 663.1 Z" stroke="#000" stroke-width="0.5" fill="#000" />
<text x="0" y="0" font-size="29.5" text-anchor="middle" transform="translate(255 651) scale(0.95 1)" >63</text>
<line x1="21.4" y1="701.5" x2="100" y2="701.5" stroke="#000" stroke-width="1.1"/>
<line x1="21.2" y1="959.9" x2="80" y2="959.9" stroke="#000" stroke-width="1.1"/>
<line x1="39.6" y1="701.5" x2="39.6" y2="959.9" stroke="#000" stroke-width="1.1"/>
<path d="M39.6 701.5 L36 716 L43.2 716 Z" stroke="#000" stroke-width="0.5" fill="#000" />
<path d="M39.6 959.9 L36 945.4 L43.2 945.4 Z" stroke="#000" stroke-width="0.5" fill="#000" />
<text x="0" y="0" font-size="29.5" text-anchor="middle" transform="translate(30.9 830.7) rotate(-90) scale(0.95 1)" >46</text>
<line x1="99" y1="959.9" x2="99" y2="1035" stroke="#000" stroke-width="1.1"/>
<line x1="215.6" y1="959.9" x2="215.6" y2="1035" stroke="#000" stroke-width="1.1"/>
<line x1="99" y1="1016.8" x2="215.6" y2="1016.8" stroke="#000" stroke-width="1.1"/>
<path d="M99 1016.8 L113.5 1013.2 L113.5 1020.4 Z" stroke="#000" stroke-width="0.5" fill="#000" />
<path d="M215.6 1016.8 L201.1 1013.2 L201.1 1020.4 Z" stroke="#000" stroke-width="0.5" fill="#000" />
<text x="0" y="0" font-size="29.5" text-anchor="middle" transform="translate(156.7 1004.3) scale(0.95 1)" >G1/2"</text>
<line x1="432.2" y1="777" x2="506.3" y2="777" stroke="#000" stroke-width="1.1"/>
<line x1="432.2" y1="893.4" x2="506.3" y2="893.4" stroke="#000" stroke-width="1.1"/>
<line x1="488.3" y1="777" x2="488.3" y2="893.4" stroke="#000" stroke-width="1.1"/>
<path d="M488.3 777 L484.7 791.5 L491.9 791.5 Z" stroke="#000" stroke-width="0.5" fill="#000" />
<path d="M488.3 893.4 L484.7 878.9 L491.9 878.9 Z" stroke="#000" stroke-width="0.5" fill="#000" />
<text x="0" y="0" font-size="29.5" text-anchor="middle" transform="translate(475.2 835) rotate(-90) scale(0.95 1)" >R1/2"</text>
<rect x="96.3" y="701" width="119.8" height="42.1" rx="2" stroke="#000" stroke-width="0" fill="#555"/>
<line x1="96.32" y1="702" x2="96.32" y2="742.1" stroke="#000" stroke-width="0.9"/>
<line x1="96.5" y1="702" x2="96.5" y2="742.1" stroke="#000" stroke-width="0.9"/>
<line x1="96.85" y1="702" x2="96.85" y2="742.1" stroke="#000" stroke-width="0.9"/>
<line x1="97.37" y1="702" x2="97.37" y2="742.1" stroke="#000" stroke-width="0.9"/>
<line x1="98.07" y1="702" x2="98.07" y2="742.1" stroke="#000" stroke-width="0.9"/>
<line x1="98.94" y1="702" x2="98.94" y2="742.1" stroke="#000" stroke-width="0.9"/>
<line x1="99.97" y1="702" x2="99.97" y2="742.1" stroke="#000" stroke-width="0.9"/>
<line x1="101.18" y1="702" x2="101.18" y2="742.1" stroke="#000" stroke-width="0.9"/>
<line x1="102.54" y1="702" x2="102.54" y2="742.1" stroke="#000" stroke-width="0.9"/>
<line x1="104.06" y1="702" x2="104.06" y2="742.1" stroke="#000" stroke-width="0.9"/>
<line x1="106.52" y1="703" x2="106.52" y2="741.1" stroke="rgb(170,170,170)" stroke-width="0.61"/>
<line x1="105.73" y1="702" x2="105.73" y2="742.1" stroke="#000" stroke-width="0.9"/>
<line x1="108.4" y1="703" x2="108.4" y2="741.1" stroke="rgb(255,255,255)" stroke-width="0.66"/>
<line x1="107.55" y1="702" x2="107.55" y2="742.1" stroke="#000" stroke-width="0.9"/>
<line x1="110.43" y1="703" x2="110.43" y2="741.1" stroke="rgb(130,130,130)" stroke-width="0.71"/>
<line x1="109.51" y1="702" x2="109.51" y2="742.1" stroke="#000" stroke-width="0.9"/>
<line x1="112.59" y1="703" x2="112.59" y2="741.1" stroke="rgb(170,170,170)" stroke-width="0.76"/>
<line x1="111.61" y1="702" x2="111.61" y2="742.1" stroke="#000" stroke-width="0.9"/>
<line x1="114.88" y1="703" x2="114.88" y2="741.1" stroke="rgb(130,130,130)" stroke-width="0.8"/>
<line x1="113.84" y1="702" x2="113.84" y2="742.1" stroke="#000" stroke-width="0.9"/>
<line x1="117.29" y1="703" x2="117.29" y2="741.1" stroke="rgb(200,200,200)" stroke-width="0.85"/>
<line x1="116.2" y1="702" x2="116.2" y2="742.1" stroke="#000" stroke-width="0.9"/>
<line x1="119.81" y1="703" x2="119.81" y2="741.1" stroke="rgb(230,230,230)" stroke-width="0.89"/>
<line x1="118.67" y1="702" x2="118.67" y2="742.1" stroke="#000" stroke-width="0.9"/>
<line x1="122.44" y1="703" x2="122.44" y2="741.1" stroke="rgb(170,170,170)" stroke-width="0.92"/>
<line x1="121.25" y1="702" x2="121.25" y2="742.1" stroke="#000" stroke-width="0.9"/>
<line x1="125.17" y1="703" x2="125.17" y2="741.1" stroke="rgb(230,230,230)" stroke-width="0.96"/>
<line x1="123.94" y1="702" x2="123.94" y2="742.1" stroke="#000" stroke-width="0.9"/>
<line x1="127.99" y1="703" x2="127.99" y2="741.1" stroke="rgb(255,255,255)" stroke-width="0.99"/>
<line x1="126.72" y1="702" x2="126.72" y2="742.1" stroke="#000" stroke-width="0.9"/>
<line x1="130.89" y1="703" x2="130.89" y2="741.1" stroke="rgb(130,130,130)" stroke-width="1.02"/>
<line x1="129.59" y1="702" x2="129.59" y2="742.1" stroke="#000" stroke-width="0.9"/>
<line x1="133.87" y1="703" x2="133.87" y2="741.1" stroke="rgb(255,255,255)" stroke-width="1.04"/>
<line x1="132.53" y1="702" x2="132.53" y2="742.1" stroke="#000" stroke-width="0.9"/>
<line x1="136.91" y1="703" x2="136.91" y2="741.1" stroke="rgb(170,170,170)" stroke-width="1.07"/>
<line x1="135.54" y1="702" x2="135.54" y2="742.1" stroke="#000" stroke-width="0.9"/>
<line x1="140.01" y1="703" x2="140.01" y2="741.1" stroke="rgb(130,130,130)" stroke-width="1.09"/>
<line x1="138.62" y1="702" x2="138.62" y2="742.1" stroke="#000" stroke-width="0.9"/>
<line x1="143.16" y1="703" x2="143.16" y2="741.1" stroke="rgb(255,255,255)" stroke-width="1.1"/>
<line x1="141.74" y1="702" x2="141.74" y2="742.1" stroke="#000" stroke-width="0.9"/>
<line x1="146.35" y1="703" x2="146.35" y2="741.1" stroke="rgb(170,170,170)" stroke-width="1.12"/>
<line x1="144.91" y1="702" x2="144.91" y2="742.1" stroke="#000" stroke-width="0.9"/>
<line x1="149.56" y1="703" x2="149.56" y2="741.1" stroke="rgb(230,230,230)" stroke-width="1.13"/>
<line x1="148.11" y1="702" x2="148.11" y2="742.1" stroke="#000" stroke-width="0.9"/>
<line x1="152.79" y1="703" x2="152.79" y2="741.1" stroke="rgb(200,200,200)" stroke-width="1.13"/>
<line x1="151.34" y1="702" x2="151.34" y2="742.1" stroke="#000" stroke-width="0.9"/>
<line x1="156.04" y1="703" x2="156.04" y2="741.1" stroke="rgb(170,170,170)" stroke-width="1.14"/>
<line x1="154.58" y1="702" x2="154.58" y2="742.1" stroke="#000" stroke-width="0.9"/>
<line x1="159.28" y1="703" x2="159.28" y2="741.1" stroke="rgb(230,230,230)" stroke-width="1.14"/>
<line x1="157.82" y1="702" x2="157.82" y2="742.1" stroke="#000" stroke-width="0.9"/>
<line x1="162.52" y1="703" x2="162.52" y2="741.1" stroke="rgb(170,170,170)" stroke-width="1.13"/>
<line x1="161.06" y1="702" x2="161.06" y2="742.1" stroke="#000" stroke-width="0.9"/>
<line x1="165.73" y1="703" x2="165.73" y2="741.1" stroke="rgb(130,130,130)" stroke-width="1.13"/>
<line x1="164.29" y1="702" x2="164.29" y2="742.1" stroke="#000" stroke-width="0.9"/>
<line x1="168.92" y1="703" x2="168.92" y2="741.1" stroke="rgb(170,170,170)" stroke-width="1.12"/>
<line x1="167.49" y1="702" x2="167.49" y2="742.1" stroke="#000" stroke-width="0.9"/>
<line x1="172.07" y1="703" x2="172.07" y2="741.1" stroke="rgb(255,255,255)" stroke-width="1.1"/>
<line x1="170.66" y1="702" x2="170.66" y2="742.1" stroke="#000" stroke-width="0.9"/>
<line x1="175.18" y1="703" x2="175.18" y2="741.1" stroke="rgb(255,255,255)" stroke-width="1.09"/>
<line x1="173.78" y1="702" x2="173.78" y2="742.1" stroke="#000" stroke-width="0.9"/>
<line x1="178.23" y1="703" x2="178.23" y2="741.1" stroke="rgb(230,230,230)" stroke-width="1.07"/>
<line x1="176.86" y1="702" x2="176.86" y2="742.1" stroke="#000" stroke-width="0.9"/>
<line x1="181.21" y1="703" x2="181.21" y2="741.1" stroke="rgb(170,170,170)" stroke-width="1.04"/>
<line x1="179.87" y1="702" x2="179.87" y2="742.1" stroke="#000" stroke-width="0.9"/>
<line x1="184.12" y1="703" x2="184.12" y2="741.1" stroke="rgb(170,170,170)" stroke-width="1.02"/>
<line x1="182.81" y1="702" x2="182.81" y2="742.1" stroke="#000" stroke-width="0.9"/>
<line x1="186.95" y1="703" x2="186.95" y2="741.1" stroke="rgb(130,130,130)" stroke-width="0.99"/>
<line x1="185.68" y1="702" x2="185.68" y2="742.1" stroke="#000" stroke-width="0.9"/>
<line x1="189.69" y1="703" x2="189.69" y2="741.1" stroke="rgb(130,130,130)" stroke-width="0.96"/>
<line x1="188.46" y1="702" x2="188.46" y2="742.1" stroke="#000" stroke-width="0.9"/>
<line x1="192.33" y1="703" x2="192.33" y2="741.1" stroke="rgb(170,170,170)" stroke-width="0.92"/>
<line x1="191.15" y1="702" x2="191.15" y2="742.1" stroke="#000" stroke-width="0.9"/>
<line x1="194.87" y1="703" x2="194.87" y2="741.1" stroke="rgb(170,170,170)" stroke-width="0.89"/>
<line x1="193.73" y1="702" x2="193.73" y2="742.1" stroke="#000" stroke-width="0.9"/>
<line x1="197.29" y1="703" x2="197.29" y2="741.1" stroke="rgb(170,170,170)" stroke-width="0.85"/>
<line x1="196.2" y1="702" x2="196.2" y2="742.1" stroke="#000" stroke-width="0.9"/>
<line x1="199.59" y1="703" x2="199.59" y2="741.1" stroke="rgb(170,170,170)" stroke-width="0.8"/>
<line x1="198.56" y1="702" x2="198.56" y2="742.1" stroke="#000" stroke-width="0.9"/>
<line x1="201.76" y1="703" x2="201.76" y2="741.1" stroke="rgb(200,200,200)" stroke-width="0.76"/>
<line x1="200.79" y1="702" x2="200.79" y2="742.1" stroke="#000" stroke-width="0.9"/>
<line x1="203.8" y1="703" x2="203.8" y2="741.1" stroke="rgb(200,200,200)" stroke-width="0.71"/>
<line x1="202.89" y1="702" x2="202.89" y2="742.1" stroke="#000" stroke-width="0.9"/>
<line x1="205.7" y1="703" x2="205.7" y2="741.1" stroke="rgb(170,170,170)" stroke-width="0.66"/>
<line x1="204.85" y1="702" x2="204.85" y2="742.1" stroke="#000" stroke-width="0.9"/>
<line x1="207.46" y1="703" x2="207.46" y2="741.1" stroke="rgb(255,255,255)" stroke-width="0.61"/>
<line x1="206.67" y1="702" x2="206.67" y2="742.1" stroke="#000" stroke-width="0.9"/>
<line x1="208.34" y1="702" x2="208.34" y2="742.1" stroke="#000" stroke-width="0.9"/>
<line x1="209.86" y1="702" x2="209.86" y2="742.1" stroke="#000" stroke-width="0.9"/>
<line x1="211.22" y1="702" x2="211.22" y2="742.1" stroke="#000" stroke-width="0.9"/>
<line x1="212.43" y1="702" x2="212.43" y2="742.1" stroke="#000" stroke-width="0.9"/>
<line x1="213.46" y1="702" x2="213.46" y2="742.1" stroke="#000" stroke-width="0.9"/>
<line x1="214.33" y1="702" x2="214.33" y2="742.1" stroke="#000" stroke-width="0.9"/>
<line x1="215.03" y1="702" x2="215.03" y2="742.1" stroke="#000" stroke-width="0.9"/>
<line x1="215.55" y1="702" x2="215.55" y2="742.1" stroke="#000" stroke-width="0.9"/>
<line x1="215.9" y1="702" x2="215.9" y2="742.1" stroke="#000" stroke-width="0.9"/>
<line x1="216.08" y1="702" x2="216.08" y2="742.1" stroke="#000" stroke-width="0.9"/>
<rect x="96.3" y="701" width="119.8" height="42.1" rx="2" stroke="#000" stroke-width="1.6" fill="none"/>
<path d="M102.2 743.3 L102.2 753 L210.3 753 L210.3 743.3" stroke="#000" stroke-width="1.06" fill="#444" />
<path d="M102 745.5 Q150 749 210.5 745.5 M102 750 Q150 745 210.5 750" stroke="#ddd" stroke-width="0.9" fill="none" />
<line x1="105" y1="753" x2="105" y2="880.2" stroke="#000" stroke-width="1.14"/>
<line x1="206.8" y1="753" x2="206.8" y2="770.8" stroke="#000" stroke-width="1.14"/>
<text x="0" y="0" font-size="19" font-weight="bold" text-anchor="middle" transform="translate(148.2 826.3) rotate(90) scale(0.9 1)">DN15</text>
<path d="M206.8 770.8 Q208 776 213.6 775 Q220 769 224 768.2" stroke="#000" stroke-width="1.06" fill="none" />
<path d="M206.8 770.8 Q186 805 186.2 835.7 Q186 860 197.4 880" stroke="#000" stroke-width="1.06" fill="none" />
<path d="M213.6 775 Q194 805 193 835 Q194 866 210 881.9 L222 900.7" stroke="#000" stroke-width="1.06" fill="none" />
<line x1="105" y1="880.2" x2="197.4" y2="880.2" stroke="#000" stroke-width="1.14"/>
<path d="M105 880.2 L88.8 890.4 L217 890.4" stroke="#000" stroke-width="1.06" fill="none" />
<line x1="90" y1="893" x2="219" y2="893" stroke="#000" stroke-width="1"/>
<path d="M197.4 880 L217 890.4 L224 903" stroke="#000" stroke-width="1.06" fill="none" />
<line x1="88.8" y1="890.4" x2="87.9" y2="903" stroke="#000" stroke-width="1.06"/>
<line x1="223" y1="768.2" x2="223" y2="903" stroke="#000" stroke-width="1.06"/>
<line x1="228.6" y1="767.5" x2="228.6" y2="903" stroke="#000" stroke-width="1.06"/>
<path d="M224 767.5 L243.5 767.5" stroke="#000" stroke-width="1.06" fill="none" />
<line x1="228.4" y1="903.3" x2="243.5" y2="903.3" stroke="#000" stroke-width="1.06"/>
<path d="M78 910 Q78 903.2 86 903.2 L228 903.2 Q234.5 903.2 234.5 910 L234.5 953 Q234.5 959.9 226 959.9 L86 959.9 Q78 959.9 78 953 Z" stroke="#000" stroke-width="1.14" fill="none" />
<path d="M82 905.7 Q100 903 110.3 905.7 L124.4 905.7 Q157 898 189.6 905.7 L202 905.7 Q215 903 230 905.7" stroke="#000" stroke-width="1" fill="none" />
<path d="M82 957 Q100 960 110.3 957 L124.4 957 Q157 963 189.6 957 L202 957 Q215 960 230 957" stroke="#000" stroke-width="1" fill="none" />
<line x1="110.3" y1="905.7" x2="110.3" y2="957" stroke="#000" stroke-width="1.1"/>
<line x1="124.4" y1="905.7" x2="124.4" y2="957" stroke="#000" stroke-width="1.1"/>
<line x1="189.6" y1="905.7" x2="189.6" y2="957" stroke="#000" stroke-width="1.1"/>
<line x1="202" y1="905.7" x2="202" y2="957" stroke="#000" stroke-width="1.1"/>
<path d="M250.2 740.3 L305.3 740.3 L311.7 751.4 L311.7 919.1 L304.3 930.2 L251.2 930.2 L243.7 919.1 L243.7 751.4 Z" stroke="#000" stroke-width="1.14" fill="none" />
<line x1="250" y1="783.7" x2="306.2" y2="783.7" stroke="#000" stroke-width="1.06"/>
<line x1="250" y1="792.7" x2="306.2" y2="792.7" stroke="#000" stroke-width="1.06"/>
<line x1="250" y1="878" x2="306.2" y2="878" stroke="#000" stroke-width="1.06"/>
<line x1="250" y1="888" x2="306.2" y2="888" stroke="#000" stroke-width="1.06"/>
<line x1="249" y1="783.7" x2="249" y2="792.7" stroke="#000" stroke-width="1.1"/>
<line x1="307.2" y1="783.7" x2="307.2" y2="792.7" stroke="#000" stroke-width="1.1"/>
<line x1="249" y1="878" x2="249" y2="888" stroke="#000" stroke-width="1.1"/>
<line x1="307.2" y1="878" x2="307.2" y2="888" stroke="#000" stroke-width="1.1"/>
<path d="M243.7 771.8 L249 783.7" stroke="#000" stroke-width="1.06" fill="none" />
<path d="M249 792.7 L243.7 816.4" stroke="#000" stroke-width="1.06" fill="none" />
<path d="M311.7 771.8 L307.2 783.7" stroke="#000" stroke-width="1.06" fill="none" />
<path d="M307.2 792.7 L311.7 816.4" stroke="#000" stroke-width="1.06" fill="none" />
<path d="M243.7 853 L249 878" stroke="#000" stroke-width="1.06" fill="none" />
<path d="M249 888 L243.7 897" stroke="#000" stroke-width="1.06" fill="none" />
<path d="M311.7 853 L307.2 878" stroke="#000" stroke-width="1.06" fill="none" />
<path d="M307.2 888 L311.7 897" stroke="#000" stroke-width="1.06" fill="none" />
<line x1="312" y1="775.6" x2="351.5" y2="775.6" stroke="#000" stroke-width="1.06"/>
<line x1="312" y1="894.2" x2="351.5" y2="894.2" stroke="#000" stroke-width="1.06"/>
<path d="M351.5 776.8 L356.2 783.1 L361.3 776.8 L366.4 783.1 L371.5 776.8 L376.6 783.1 L381.7 776.8 L386.8 783.1 L391.9 776.8 L397 783.1 L402.1 776.8 L407.2 783.1 L412.3 776.8 L417.4 783.1 L422.5 776.8 L427.6 783.1 L432.2 781.21" stroke="#000" stroke-width="1.14" fill="none" />
<path d="M351 893.8 L356.2 893.8 L361.3 887.5 L366.4 893.8 L371.5 887.5 L376.6 893.8 L381.7 887.5 L386.8 893.8 L391.9 887.5 L397 893.8 L402.1 887.5 L407.2 893.8 L412.3 887.5 L417.4 893.8 L422.5 887.5 L426.2 893.8 L432.2 887.8" stroke="#000" stroke-width="1.14" fill="none" />
<path d="M352.4 778.8 C352.3 811.9 352.3 858.7 352.3 891.8" stroke="#000" stroke-width="1" fill="none" />
<path d="M356.2 783.1 C353 811.9 352.3 858.7 352.3 887.5" stroke="#222" stroke-width="1" fill="none" />
<path d="M360 778.8 C356.8 811.9 352.3 858.7 354.9 891.8" stroke="#000" stroke-width="1" fill="none" />
<path d="M362.6 778.8 C359.4 811.9 354.3 858.7 357.5 891.8" stroke="#000" stroke-width="1" fill="none" />
<path d="M366.4 783.1 C363.2 811.9 358.1 858.7 361.3 887.5" stroke="#222" stroke-width="1" fill="none" />
<path d="M370.2 778.8 C367 811.9 361.9 858.7 365.1 891.8" stroke="#000" stroke-width="1" fill="none" />
<path d="M372.8 778.8 C369.6 811.9 364.5 858.7 367.7 891.8" stroke="#000" stroke-width="1" fill="none" />
<path d="M376.6 783.1 C373.4 811.9 368.3 858.7 371.5 887.5" stroke="#222" stroke-width="1" fill="none" />
<path d="M380.4 778.8 C377.2 811.9 372.1 858.7 375.3 891.8" stroke="#000" stroke-width="1" fill="none" />
<path d="M383 778.8 C379.8 811.9 374.7 858.7 377.9 891.8" stroke="#000" stroke-width="1" fill="none" />
<path d="M386.8 783.1 C383.6 811.9 378.5 858.7 381.7 887.5" stroke="#222" stroke-width="1" fill="none" />
<path d="M390.6 778.8 C387.4 811.9 382.3 858.7 385.5 891.8" stroke="#000" stroke-width="1" fill="none" />
<path d="M393.2 778.8 C390 811.9 384.9 858.7 388.1 891.8" stroke="#000" stroke-width="1" fill="none" />
<path d="M397 783.1 C393.8 811.9 388.7 858.7 391.9 887.5" stroke="#222" stroke-width="1" fill="none" />
<path d="M400.8 778.8 C397.6 811.9 392.5 858.7 395.7 891.8" stroke="#000" stroke-width="1" fill="none" />
<path d="M403.4 778.8 C400.2 811.9 395.1 858.7 398.3 891.8" stroke="#000" stroke-width="1" fill="none" />
<path d="M407.2 783.1 C404 811.9 398.9 858.7 402.1 887.5" stroke="#222" stroke-width="1" fill="none" />
<path d="M411 778.8 C407.8 811.9 402.7 858.7 405.9 891.8" stroke="#000" stroke-width="1" fill="none" />
<path d="M413.6 778.8 C410.4 811.9 405.3 858.7 408.5 891.8" stroke="#000" stroke-width="1" fill="none" />
<path d="M417.4 783.1 C414.2 811.9 409.1 858.7 412.3 887.5" stroke="#222" stroke-width="1" fill="none" />
<path d="M421.2 778.8 C418 811.9 412.9 858.7 416.1 891.8" stroke="#000" stroke-width="1" fill="none" />
<path d="M423.8 778.8 C420.6 811.9 415.5 858.7 418.7 891.8" stroke="#000" stroke-width="1" fill="none" />
<path d="M427.6 783.1 C424.4 811.9 419.3 858.7 422.5 887.5" stroke="#222" stroke-width="1" fill="none" />
<path d="M431.4 778.8 C428.2 811.9 423.1 858.7 426.3 891.8" stroke="#000" stroke-width="1" fill="none" />
<path d="M431.4 778.8 C430.8 811.9 425.7 858.7 428.9 891.8" stroke="#000" stroke-width="1" fill="none" />
<line x1="351.5" y1="776.8" x2="351.5" y2="893.8" stroke="#000" stroke-width="1.14"/>
<line x1="432.2" y1="781.21" x2="432.2" y2="887.8" stroke="#000" stroke-width="1.5"/>
<line x1="678.8" y1="629" x2="678.8" y2="862" stroke="#000" stroke-width="1.1"/>
<line x1="1046.4" y1="629" x2="1046.4" y2="862" stroke="#000" stroke-width="1.1"/>
<line x1="678.8" y1="647" x2="1046.4" y2="647" stroke="#000" stroke-width="1.1"/>
<path d="M678.8 647 L693.3 643.4 L693.3 650.6 Z" stroke="#000" stroke-width="0.5" fill="#000" />
<path d="M1046.4 647 L1031.9 643.4 L1031.9 650.6 Z" stroke="#000" stroke-width="0.5" fill="#000" />
<g transform="translate(837.5 634.1)"><circle cx="9.8" cy="-9.75" r="8.9" stroke="#000" stroke-width="1.9" fill="none"/><line x1="2.2" y1="4.2" x2="18" y2="-23.4" stroke="#000" stroke-width="1.9"/><text x="21.5" y="0" font-size="29.5" text-anchor="start" transform="scale(0.95 1)">65</text></g>
<circle cx="862.5" cy="862.6" r="183.6" stroke="#000" stroke-width="2.3" fill="none"/>
<circle cx="862.5" cy="862.6" r="175.4" stroke="#000" stroke-width="1.14" fill="none"/>
<circle cx="862.5" cy="862.6" r="79.9" stroke="#000" stroke-width="1.06" fill="none"/>
<circle cx="862.5" cy="862.6" r="70.5" stroke="#000" stroke-width="2.2" fill="none"/>
<circle cx="862.5" cy="862.6" r="64" stroke="#000" stroke-width="1.06" fill="none"/>
<circle cx="862.5" cy="862.6" r="60.5" stroke="#000" stroke-width="1.06" fill="none"/>
<circle cx="862.5" cy="862.6" r="57.5" stroke="#000" stroke-width="1.06" fill="none"/>
<line x1="805.6" y1="751.3" x2="805.6" y2="862" stroke="#000" stroke-width="1.1"/>
<line x1="919.1" y1="751.3" x2="919.1" y2="862" stroke="#000" stroke-width="1.1"/>
<line x1="805.6" y1="769.2" x2="919.1" y2="769.2" stroke="#000" stroke-width="1.1"/>
<path d="M805.6 769.2 L820.1 765.6 L820.1 772.8 Z" stroke="#000" stroke-width="0.5" fill="#000" />
<path d="M919.1 769.2 L904.6 765.6 L904.6 772.8 Z" stroke="#000" stroke-width="0.5" fill="#000" />
<g transform="translate(837 756.4)"><circle cx="9.8" cy="-9.75" r="8.9" stroke="#000" stroke-width="1.9" fill="none"/><line x1="2.2" y1="4.2" x2="18" y2="-23.4" stroke="#000" stroke-width="1.9"/><text x="21.5" y="0" font-size="29.5" text-anchor="start" transform="scale(0.95 1)">20</text></g>
<line x1="1107.1" y1="803.1" x2="1448.8" y2="803.1" stroke="#000" stroke-width="1.1"/>
<line x1="1107.1" y1="921.6" x2="1448.8" y2="921.6" stroke="#000" stroke-width="1.1"/>
<line x1="1165.2" y1="728.5" x2="1165.2" y2="921.6" stroke="#000" stroke-width="1.06"/>
<line x1="1448.8" y1="728.5" x2="1448.8" y2="921.6" stroke="#000" stroke-width="1.06"/>
<line x1="1165.2" y1="746.3" x2="1448.8" y2="746.3" stroke="#000" stroke-width="1.1"/>
<path d="M1165.2 746.3 L1179.7 742.7 L1179.7 749.9 Z" stroke="#000" stroke-width="0.5" fill="#000" />
<path d="M1448.8 746.3 L1434.3 742.7 L1434.3 749.9 Z" stroke="#000" stroke-width="0.5" fill="#000" />
<text x="0" y="0" font-size="29.5" text-anchor="middle" transform="translate(1302.3 737.1) scale(0.95 1)" >50</text>
<line x1="1125.3" y1="803.1" x2="1125.3" y2="921.6" stroke="#000" stroke-width="1.1"/>
<path d="M1125.3 803.1 L1121.7 817.6 L1128.9 817.6 Z" stroke="#000" stroke-width="0.5" fill="#000" />
<path d="M1125.3 921.6 L1121.7 907.1 L1128.9 907.1 Z" stroke="#000" stroke-width="0.5" fill="#000" />
<g transform="translate(1112 887.6) rotate(-90)"><circle cx="9.8" cy="-9.75" r="8.9" stroke="#000" stroke-width="1.9" fill="none"/><line x1="2.2" y1="4.2" x2="18" y2="-23.4" stroke="#000" stroke-width="1.9"/><text x="21.5" y="0" font-size="29.5" text-anchor="start" transform="scale(0.95 1)">21</text></g>
<line x1="1493.9" y1="629" x2="1493.9" y2="783" stroke="#000" stroke-width="1.1"/>
<line x1="1533.5" y1="629" x2="1533.5" y2="678.5" stroke="#000" stroke-width="1.1"/>
<line x1="1465.1" y1="646.9" x2="1562.3" y2="646.9" stroke="#000" stroke-width="1.1"/>
<path d="M1493.9 646.9 L1479.4 643.3 L1479.4 650.5 Z" stroke="#000" stroke-width="0.5" fill="#000" />
<path d="M1533.5 646.9 L1548 643.3 L1548 650.5 Z" stroke="#000" stroke-width="0.5" fill="#000" />
<text x="0" y="0" font-size="29.5" text-anchor="middle" transform="translate(1513.4 639) scale(0.95 1)" >7</text>
<path d="M1533.5 678.3 L1513.5 678.6 Q1505 679 1505 687.7 L1505 1037 Q1505 1046.2 1513.5 1046.2 L1533.8 1046.8 L1533.5 678.3" stroke="#000" stroke-width="1.14" fill="none" />
<line x1="1513.5" y1="678.6" x2="1513.5" y2="1046.2" stroke="#000" stroke-width="1.06"/>
<path d="M1505 783.1 L1502 783.1 Q1493.7 783.1 1493.7 791.3 L1493.7 931.7 Q1493.7 942 1502 942 L1505 942" stroke="#000" stroke-width="1.06" fill="none" />
<line x1="1502.3" y1="783.1" x2="1502.3" y2="942" stroke="#000" stroke-width="1"/>
</svg></body></html>
